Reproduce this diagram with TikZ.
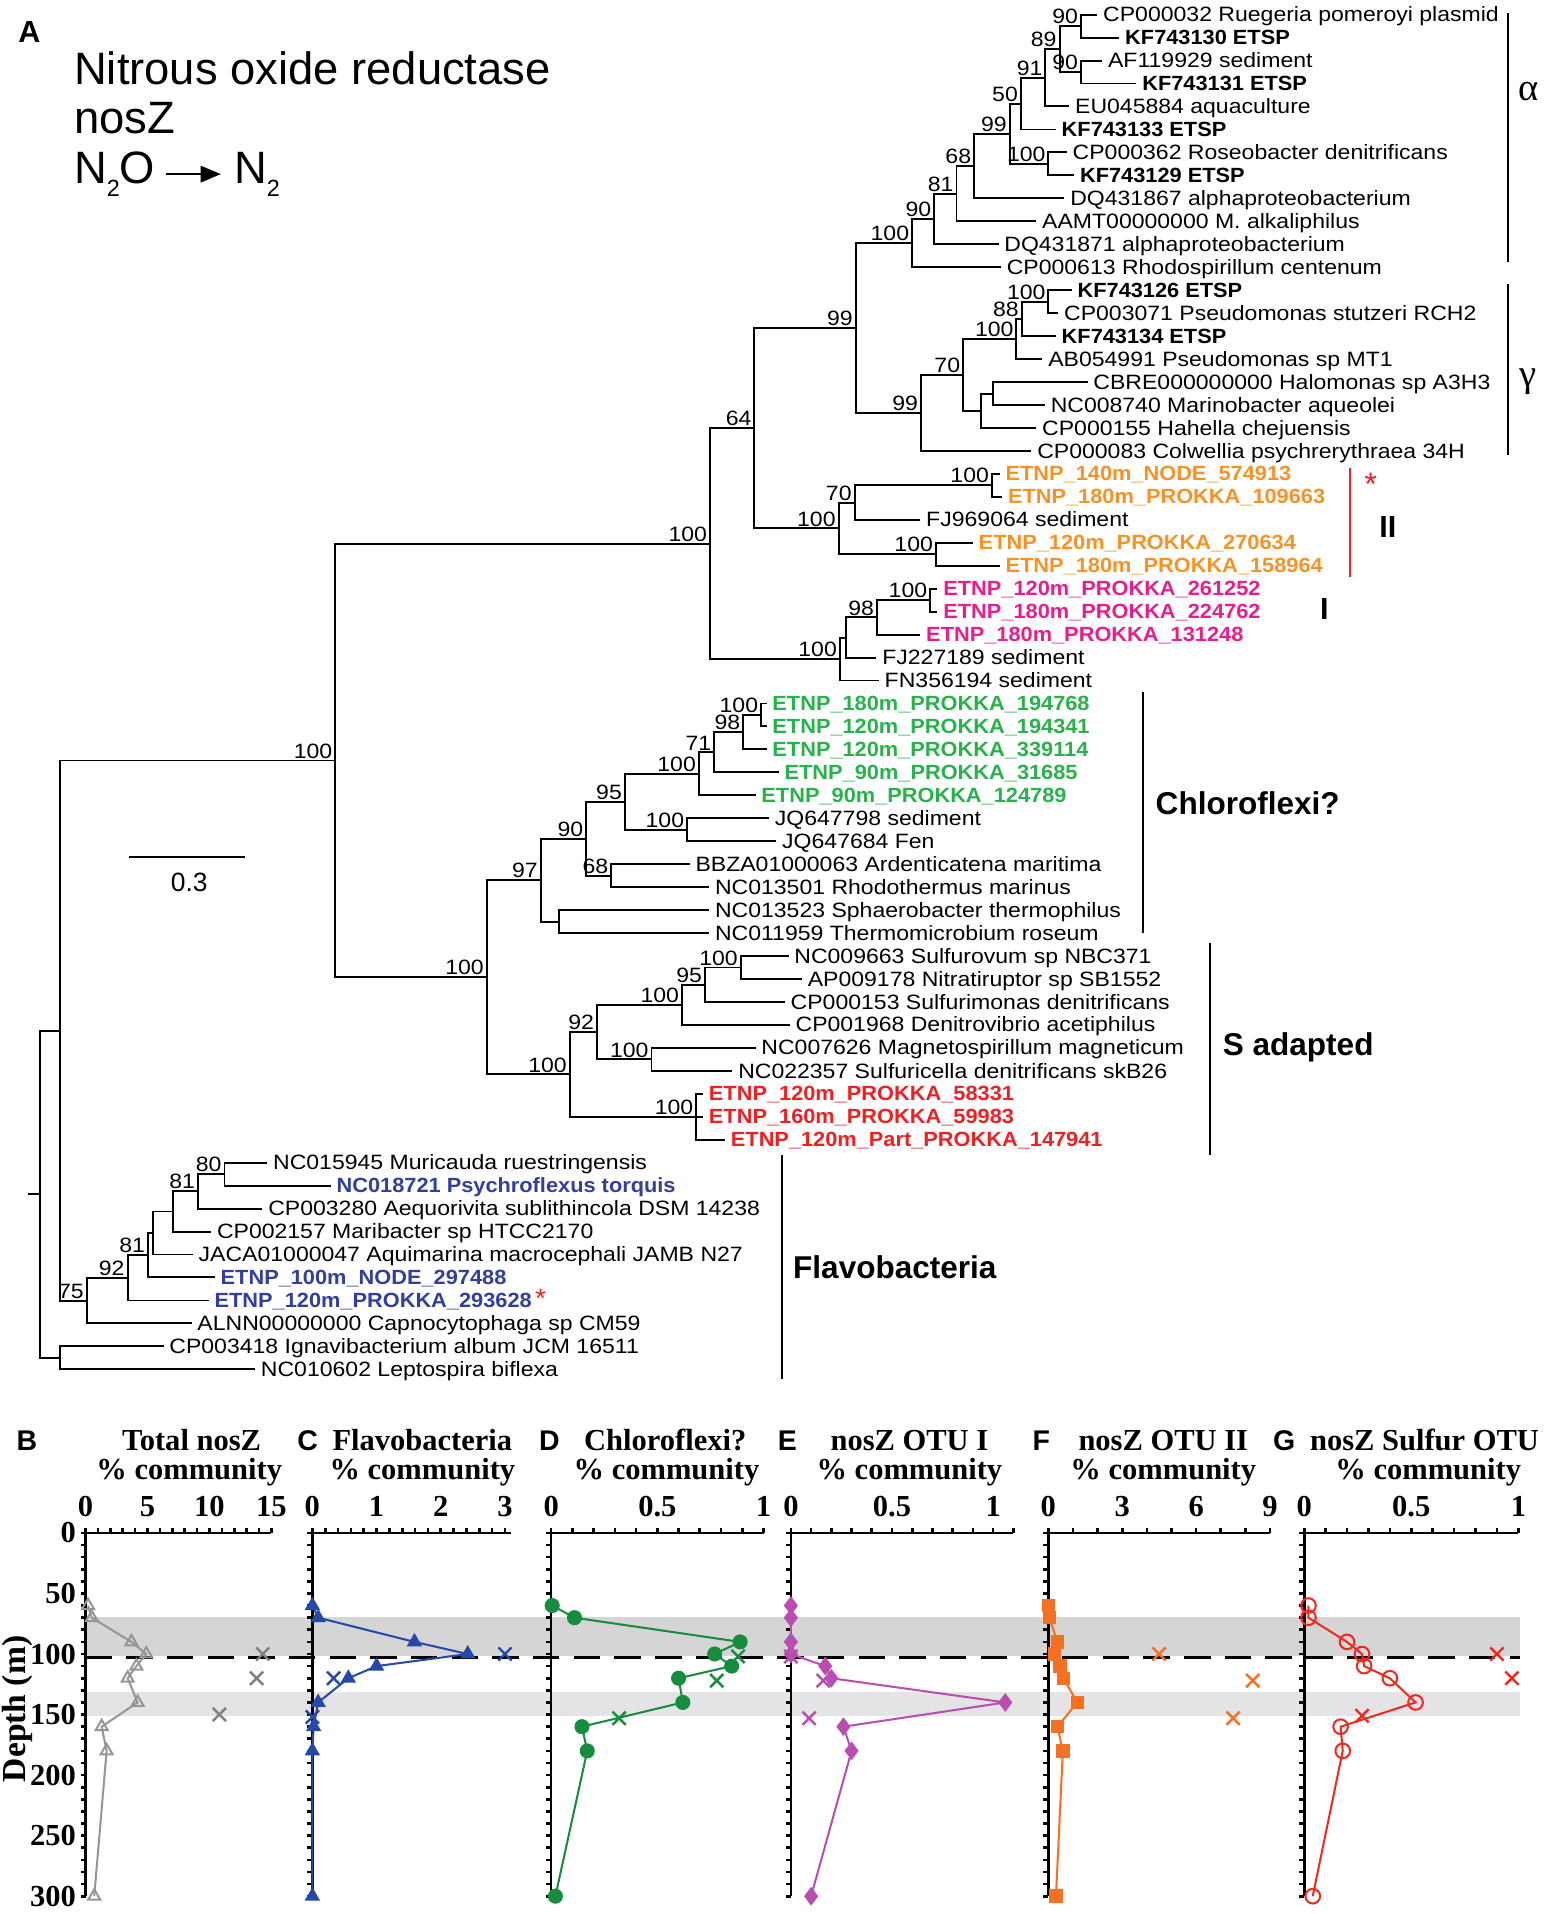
\documentclass[tikz,border=0pt]{standalone}
\usepackage{fontspec}
\setmainfont{Liberation Sans}
\newfontfamily\timesfont{Liberation Serif}
\newfontfamily\leaffont{Liberation Sans}[FakeStretch=1.11]
\newfontfamily\leafboldfont{Liberation Sans}[FakeStretch=1.06]
\usetikzlibrary{arrows.meta,plotmarks}

\definecolor{nosorange}{RGB}{246,146,38}
\definecolor{nospink}{RGB}{231,30,140}
\definecolor{nosgreen}{RGB}{40,178,75}
\definecolor{nosred}{RGB}{237,32,36}
\definecolor{nosblue}{RGB}{50,62,160}
\definecolor{bandA}{RGB}{213,213,213}
\definecolor{bandB}{RGB}{228,228,230}
\definecolor{plotgray}{RGB}{150,150,150}
\definecolor{plotblue}{RGB}{38,72,168}
\definecolor{plotgreen}{RGB}{22,140,62}
\definecolor{plotpink}{RGB}{186,78,176}
\definecolor{plotorange}{RGB}{245,112,32}
\definecolor{plotred}{RGB}{236,42,30}

\tikzset{
  leaf/.style={anchor=west,inner xsep=2.4pt,inner ysep=0pt,text height=8pt,text depth=1pt,font=\leaffont\fontsize{10.2}{12}\selectfont},
  boldleaf/.style={leaf,font=\leafboldfont\bfseries\fontsize{10.1}{12}\selectfont},
  boot/.style={anchor=south east,inner xsep=1pt,inner ysep=0.6pt,font=\leaffont\fontsize{10.2}{12}\selectfont},
  cladebar/.style={line width=1pt},
  cladename/.style={anchor=west,inner sep=0pt,font=\fontsize{15.5}{18}\selectfont\bfseries},
  greek/.style={inner sep=0pt,font=\timesfont\fontsize{19}{22}\selectfont},
  redstar/.style={inner sep=0pt,text height=7pt,text depth=0pt,text=nosred,font=\fontsize{16}{18}\selectfont},
  axis/.style={line width=1.3pt},
  ticklab/.style={inner sep=0pt,font=\timesfont\bfseries\fontsize{15}{18}\selectfont},
  ptitle/.style={inner sep=0pt,font=\timesfont\bfseries\fontsize{15}{18}\selectfont},
  pletter/.style={inner sep=0pt,font=\bfseries\fontsize{14}{16}\selectfont},
  dataline/.style={line width=1pt},
  xmarks/.style={only marks,mark=x,mark size=4.6pt,mark options={line width=1.2pt}}
}

\begin{document}
\begin{tikzpicture}[x=0.6pt,y=-0.6pt,line width=0.95pt]
\useasboundingbox (0,0) rectangle (1267,1568);

\node[inner sep=0pt,font=\bfseries\fontsize{15}{18}\selectfont] (lblA) at (24,26) {A};
\node[anchor=base west,inner sep=0pt,font=\fontsize{22.3}{24}\selectfont] (title1) at (60,69.6) {Nitrous oxide reductase};
\node[anchor=base west,inner sep=0pt,font=\fontsize{22.3}{24}\selectfont] (title2) at (60,109.2) {nosZ};
\node[anchor=base west,inner sep=0pt,font=\fontsize{22.3}{24}\selectfont] (title3) at (60,150.2) {N\raisebox{-6.5pt}{\fontsize{11.5}{12}\selectfont 2}O};
\node[anchor=base west,inner sep=0pt,font=\fontsize{22.3}{24}\selectfont] (title4) at (191,150.2) {N\raisebox{-6.5pt}{\fontsize{11.5}{12}\selectfont 2}};
\draw[line width=1.3pt,-{Triangle[length=10pt,width=8pt]},shorten <=5pt,shorten >=6pt] (title3.east) -- (title3.east -| title4.west);

\node[leaf] (l1) at (899,12.0) {CP000032 Ruegeria pomeroyi plasmid};
\node[boldleaf] (l2) at (917,30.8) {KF743130 ETSP};
\node[leaf] (l3) at (903,49.6) {AF119929 sediment};
\node[boldleaf] (l4) at (931,68.4) {KF743131 ETSP};
\node[leaf] (l5) at (876,87.2) {EU045884 aquaculture};
\node[boldleaf] (l6) at (865,106.1) {KF743133 ETSP};
\node[leaf] (l7) at (874,124.9) {CP000362 Roseobacter denitrificans};
\node[boldleaf] (l8) at (880,143.7) {KF743129 ETSP};
\node[leaf] (l9) at (872,162.5) {DQ431867 alphaproteobacterium};
\node[leaf] (l10) at (849,181.3) {AAMT00000000 M. alkaliphilus};
\node[leaf] (l11) at (818,200.1) {DQ431871 alphaproteobacterium};
\node[leaf] (l12) at (820,218.9) {CP000613 Rhodospirillum centenum};
\node[boldleaf] (l13) at (878,237.7) {KF743126 ETSP};
\node[leaf] (l14) at (867,256.5) {CP003071 Pseudomonas stutzeri RCH2};
\node[boldleaf] (l15) at (865,275.3) {KF743134 ETSP};
\node[leaf] (l16) at (854,294.2) {AB054991 Pseudomonas sp MT1};
\node[leaf] (l17) at (891,313.0) {CBRE000000000 Halomonas sp A3H3};
\node[leaf] (l18) at (856,331.8) {NC008740 Marinobacter aqueolei};
\node[leaf] (l19) at (849,350.6) {CP000155 Hahella chejuensis};
\node[leaf] (l20) at (845,369.4) {CP000083 Colwellia psychrerythraea 34H};
\node[boldleaf,text=nosorange] (l21) at (819,388.2) {ETNP\_140m\_NODE\_574913};
\node[boldleaf,text=nosorange] (l22) at (821,407.0) {ETNP\_180m\_PROKKA\_109663};
\node[leaf] (l23) at (754,425.8) {FJ969064 sediment};
\node[boldleaf,text=nosorange] (l24) at (797,444.6) {ETNP\_120m\_PROKKA\_270634};
\node[boldleaf,text=nosorange] (l25) at (819,463.4) {ETNP\_180m\_PROKKA\_158964};
\node[boldleaf,text=nospink] (l26) at (768,482.3) {ETNP\_120m\_PROKKA\_261252};
\node[boldleaf,text=nospink] (l27) at (768,501.1) {ETNP\_180m\_PROKKA\_224762};
\node[boldleaf,text=nospink] (l28) at (754,519.9) {ETNP\_180m\_PROKKA\_131248};
\node[leaf] (l29) at (718,538.7) {FJ227189 sediment};
\node[leaf] (l30) at (720,557.5) {FN356194 sediment};
\node[boldleaf,text=nosgreen] (l31) at (628,576.3) {ETNP\_180m\_PROKKA\_194768};
\node[boldleaf,text=nosgreen] (l32) at (628,595.1) {ETNP\_120m\_PROKKA\_194341};
\node[boldleaf,text=nosgreen] (l33) at (628,613.9) {ETNP\_120m\_PROKKA\_339114};
\node[boldleaf,text=nosgreen] (l34) at (638,632.7) {ETNP\_90m\_PROKKA\_31685};
\node[boldleaf,text=nosgreen] (l35) at (619,651.5) {ETNP\_90m\_PROKKA\_124789};
\node[leaf] (l36) at (630,670.3) {JQ647798 sediment};
\node[leaf] (l37) at (636,689.2) {JQ647684 Fen};
\node[leaf] (l38) at (565,708.0) {BBZA01000063 Ardenticatena maritima};
\node[leaf] (l39) at (581,726.8) {NC013501 Rhodothermus marinus};
\node[leaf] (l40) at (581,745.6) {NC013523 Sphaerobacter thermophilus};
\node[leaf] (l41) at (581,764.4) {NC011959 Thermomicrobium roseum};
\node[leaf] (l42) at (646,783.2) {NC009663 Sulfurovum sp NBC371};
\node[leaf] (l43) at (657,802.0) {AP009178 Nitratiruptor sp SB1552};
\node[leaf] (l44) at (643,820.8) {CP000153 Sulfurimonas denitrificans};
\node[leaf] (l45) at (647,839.6) {CP001968 Denitrovibrio acetiphilus};
\node[leaf] (l46) at (619,858.4) {NC007626 Magnetospirillum magneticum};
\node[leaf] (l47) at (600,877.3) {NC022357 Sulfuricella denitrificans skB26};
\node[boldleaf,text=nosred] (l48) at (576,896.1) {ETNP\_120m\_PROKKA\_58331};
\node[boldleaf,text=nosred] (l49) at (576,914.9) {ETNP\_160m\_PROKKA\_59983};
\node[boldleaf,text=nosred] (l50) at (594,933.7) {ETNP\_120m\_Part\_PROKKA\_147941};
\node[leaf] (l51) at (219,952.5) {NC015945 Muricauda ruestringensis};
\node[boldleaf,text=nosblue] (l52) at (271,971.3) {NC018721 Psychroflexus torquis};
\node[leaf] (l53) at (215,990.1) {CP003280 Aequorivita sublithincola DSM 14238};
\node[leaf] (l54) at (173,1008.9) {CP002157 Maribacter sp HTCC2170};
\node[leaf] (l55) at (158,1027.7) {JACA01000047 Aquimarina macrocephali JAMB N27};
\node[boldleaf,text=nosblue] (l56) at (176,1046.5) {ETNP\_100m\_NODE\_297488};
\node[boldleaf,text=nosblue] (l57) at (171,1065.4) {ETNP\_120m\_PROKKA\_293628\,{\color{nosred}\mdseries\fontsize{13}{13}\selectfont *}};
\node[leaf] (l58) at (157,1084.2) {ALNN00000000 Capnocytophaga sp CM59};
\node[leaf] (l59) at (134,1103.0) {CP003418 Ignavibacterium album JCM 16511};
\node[leaf] (l60) at (209,1121.8) {NC010602 Leptospira biflexa};

\coordinate (a90a) at (885.5,21.4);
\coordinate (a90b) at (885.5,59.0);
\coordinate (a89) at (868,40.2);
\coordinate (a91) at (856.4,63.7);
\coordinate (a50) at (836.3,84.9);
\coordinate (a100r) at (858.9,134.3);
\coordinate (a99) at (827.2,109.6);
\coordinate (a68) at (798,136.1);
\coordinate (a81) at (783.6,158.7);
\coordinate (a90c) at (765.4,179.4);
\coordinate (a100) at (747.2,199.2);
\coordinate (g100a) at (858.9,247.1);
\coordinate (g88) at (837,261.2);
\coordinate (g100b) at (832.7,277.7);
\coordinate (gHM) at (813.4,322.4);
\coordinate (gHH) at (803.6,336.5);
\coordinate (g70) at (789,307.1);
\coordinate (g99) at (754.4,338.3);
\coordinate (p99) at (701,268.8);
\coordinate (t100a) at (812.6,397.6);
\coordinate (t70) at (700.1,411.7);
\coordinate (t100b) at (766.7,454.0);
\coordinate (t100) at (687,432.9);
\coordinate (n64) at (618,350.8);
\coordinate (o100a) at (762,491.7);
\coordinate (o98) at (718.4,505.8);
\coordinate (ox) at (693.1,522.3);
\coordinate (o100) at (688,539.9);
\coordinate (top100) at (581.6,445.4);
\coordinate (c100a) at (623.5,585.7);
\coordinate (c98) at (608.9,599.8);
\coordinate (c71) at (585.1,616.3);
\coordinate (c100b) at (572.5,633.9);
\coordinate (c100c) at (562.9,679.8);
\coordinate (c95) at (511.9,656.8);
\coordinate (c68) at (500.7,717.4);
\coordinate (c90) at (480.2,687.1);
\coordinate (cx) at (457.6,755.0);
\coordinate (c97) at (443,721.1);
\coordinate (s100a) at (606.8,792.6);
\coordinate (s95) at (577.5,806.7);
\coordinate (s100b) at (558.7,823.2);
\coordinate (s100c) at (533.7,867.9);
\coordinate (s92) at (489,845.5);
\coordinate (s100d) at (570.4,914.9);
\coordinate (s100) at (466.8,880.2);
\coordinate (cs100) at (398.7,800.6);
\coordinate (main100) at (274.6,623.0);
\coordinate (f80) at (183.9,961.9);
\coordinate (f81a) at (162.1,976.0);
\coordinate (fx1) at (142.1,992.5);
\coordinate (fx2) at (125.4,1010.1);
\coordinate (f81b) at (121.2,1028.3);
\coordinate (f92) at (104.5,1046.8);
\coordinate (f75) at (71,1065.5);
\coordinate (nodeL) at (49,844.3);
\coordinate (fIL) at (49,1112.4);
\coordinate (root) at (32.6,978.3);
\coordinate (rootstub) at (23,978.3);

\draw (a90a) |- (l1.west) (a90a) |- (l2.west);
\draw (a90b) |- (l3.west) (a90b) |- (l4.west);
\draw (a89) |- (a90a) (a89) |- (a90b);
\draw (a91) |- (a89) (a91) |- (l5.west);
\draw (a50) |- (a91) (a50) |- (l6.west);
\draw (a100r) |- (l7.west) (a100r) |- (l8.west);
\draw (a99) |- (a50) (a99) |- (a100r);
\draw (a68) |- (a99) (a68) |- (l9.west);
\draw (a81) |- (a68) (a81) |- (l10.west);
\draw (a90c) |- (a81) (a90c) |- (l11.west);
\draw (a100) |- (a90c) (a100) |- (l12.west);
\draw (g100a) |- (l13.west) (g100a) |- (l14.west);
\draw (g88) |- (g100a) (g88) |- (l15.west);
\draw (g100b) |- (g88) (g100b) |- (l16.west);
\draw (gHM) |- (l17.west) (gHM) |- (l18.west);
\draw (gHH) |- (gHM) (gHH) |- (l19.west);
\draw (g70) |- (g100b) (g70) |- (gHH);
\draw (g99) |- (g70) (g99) |- (l20.west);
\draw (p99) |- (a100) (p99) |- (g99);
\draw (t100a) |- (l21.west) (t100a) |- (l22.west);
\draw (t70) |- (t100a) (t70) |- (l23.west);
\draw (t100b) |- (l24.west) (t100b) |- (l25.west);
\draw (t100) |- (t70) (t100) |- (t100b);
\draw (n64) |- (p99) (n64) |- (t100);
\draw (o100a) |- (l26.west) (o100a) |- (l27.west);
\draw (o98) |- (o100a) (o98) |- (l28.west);
\draw (ox) |- (o98) (ox) |- (l29.west);
\draw (o100) |- (ox) (o100) |- (l30.west);
\draw (top100) |- (n64) (top100) |- (o100);
\draw (c100a) |- (l31.west) (c100a) |- (l32.west);
\draw (c98) |- (c100a) (c98) |- (l33.west);
\draw (c71) |- (c98) (c71) |- (l34.west);
\draw (c100b) |- (c71) (c100b) |- (l35.west);
\draw (c100c) |- (l36.west) (c100c) |- (l37.west);
\draw (c95) |- (c100b) (c95) |- (c100c);
\draw (c68) |- (l38.west) (c68) |- (l39.west);
\draw (c90) |- (c95) (c90) |- (c68);
\draw (cx) |- (l40.west) (cx) |- (l41.west);
\draw (c97) |- (c90) (c97) |- (cx);
\draw (s100a) |- (l42.west) (s100a) |- (l43.west);
\draw (s95) |- (s100a) (s95) |- (l44.west);
\draw (s100b) |- (s95) (s100b) |- (l45.west);
\draw (s100c) |- (l46.west) (s100c) |- (l47.west);
\draw (s92) |- (s100b) (s92) |- (s100c);
\draw (s100d) |- (l48.west) (s100d) |- (l49.west) (s100d) |- (l50.west);
\draw (s100) |- (s92) (s100) |- (s100d);
\draw (cs100) |- (c97) (cs100) |- (s100);
\draw (main100) |- (top100) (main100) |- (cs100);
\draw (f80) |- (l51.west) (f80) |- (l52.west);
\draw (f81a) |- (f80) (f81a) |- (l53.west);
\draw (fx1) |- (f81a) (fx1) |- (l54.west);
\draw (fx2) |- (fx1) (fx2) |- (l55.west);
\draw (f81b) |- (fx2) (f81b) |- (l56.west);
\draw (f92) |- (f81b) (f92) |- (l57.west);
\draw (f75) |- (f92) (f75) |- (l58.west);
\draw (nodeL) |- (main100) (nodeL) |- (f75);
\draw (fIL) |- (l59.west) (fIL) |- (l60.west);
\draw (root) |- (nodeL) (root) |- (fIL);
\draw (rootstub) -- (root);

\node[boot] (ba90a) at (a90a) {90};
\node[boot] (ba90b) at (a90b) {90};
\node[boot] (ba89) at (a89) {89};
\node[boot] (ba91) at (a91) {91};
\node[boot] (ba50) at (a50) {50};
\node[boot] (ba100r) at (a100r) {100};
\node[boot] (ba99) at (a99) {99};
\node[boot] (ba68) at (a68) {68};
\node[boot] (ba81) at (a81) {81};
\node[boot] (ba90c) at (a90c) {90};
\node[boot] (ba100) at (a100) {100};
\node[boot] (bg100a) at (g100a) {100};
\node[boot] (bg88) at (g88) {88};
\node[boot] (bg100b) at (g100b) {100};
\node[boot] (bg70) at (g70) {70};
\node[boot] (bg99) at (g99) {99};
\node[boot] (bp99) at (p99) {99};
\node[boot] (bn64) at (n64) {64};
\node[boot] (bt100a) at (t100a) {100};
\node[boot] (bt70) at (t70) {70};
\node[boot] (bt100b) at (t100b) {100};
\node[boot] (bt100) at (t100) {100};
\node[boot] (bo100a) at (o100a) {100};
\node[boot] (bo98) at (o98) {98};
\node[boot] (bo100) at (o100) {100};
\node[boot] (btop100) at (top100) {100};
\node[boot] (bc100a) at (c100a) {100};
\node[boot] (bc98) at (c98) {98};
\node[boot] (bc71) at (c71) {71};
\node[boot] (bc100b) at (c100b) {100};
\node[boot] (bc100c) at (c100c) {100};
\node[boot] (bc95) at (c95) {95};
\node[boot] (bc68) at (c68) {68};
\node[boot] (bc90) at (c90) {90};
\node[boot] (bc97) at (c97) {97};
\node[boot] (bs100a) at (s100a) {100};
\node[boot] (bs95) at (s95) {95};
\node[boot] (bs100b) at (s100b) {100};
\node[boot] (bs100c) at (s100c) {100};
\node[boot] (bs92) at (s92) {92};
\node[boot] (bs100d) at (s100d) {100};
\node[boot] (bs100) at (s100) {100};
\node[boot] (bcs100) at (cs100) {100};
\node[boot] (bmain100) at (main100) {100};
\node[boot] (bf80) at (f80) {80};
\node[boot] (bf81a) at (f81a) {81};
\node[boot] (bf81b) at (f81b) {81};
\node[boot] (bf92) at (f92) {92};
\node[boot] (bf75) at (f75) {75};

\coordinate (alphaT) at (1235,11);
\coordinate (alphaB) at (1235,215);
\draw[cladebar] (alphaT) -- (alphaB);
\node[greek] (alpha) at (1252,75) {α};
\coordinate (gammaT) at (1235,233);
\coordinate (gammaB) at (1235,373);
\draw[cladebar] (gammaT) -- (gammaB);
\node[greek] (gamma) at (1252,313) {γ};
\coordinate (twoT) at (1106,383.6);
\coordinate (twoB) at (1106,472.3);
\draw[cladebar,nosred] (twoT) -- (twoB);
\node[redstar,anchor=base] (ast1) at (1123,406) {*};
\node[inner sep=0pt,font=\fontsize{15}{18}\selectfont\bfseries] (otu2) at (1137,431.4) {II};
\node[inner sep=0pt,font=\fontsize{15}{18}\selectfont\bfseries] (otu1) at (1085,499) {I};
\coordinate (chlT) at (936,566.5);
\coordinate (chlB) at (936,764.4);
\draw[cladebar] (chlT) -- (chlB);
\node[cladename] (chl) at (946,658) {Chloroflexi?};
\coordinate (sadT) at (991,772.6);
\coordinate (sadB) at (991,946);
\draw[cladebar] (sadT) -- (sadB);
\node[cladename] (sad) at (1001,858) {S adapted};
\coordinate (flaT) at (641,946);
\coordinate (flaB) at (641,1130);
\draw[cladebar] (flaT) -- (flaB);
\node[cladename] (fla) at (649,1038) {Flavobacteria};

\coordinate (sbL) at (106,702);
\coordinate (sbR) at (200.7,702);
\draw (sbL) -- (sbR);
\node[inner sep=0pt,font=\fontsize{13}{15}\selectfont] (sbT) at (155,723) {0.3};

\fill[bandA] (70,1324.3) rectangle (1245,1357);
\fill[bandB] (70,1385.8) rectangle (1245,1405.6);
\draw[line width=1.3pt,dash pattern=on 13pt off 7pt] (70,1358) -- (1245,1358);

\node[ptitle,rotate=90,font=\timesfont\bfseries\fontsize{16.5}{18}\selectfont] (depth) at (14,1400) {Depth (m)};
\foreach \d in {0,50,...,300} \node[ticklab,anchor=east] (dl\d) at (63,{1255.8+0.992*\d}) {\d};

\node[pletter] (pB) at (22,1180) {B};
\node[ptitle] (tB1) at (157,1180) {Total nosZ};
\node[ptitle] (tB2) at (155,1206) {\% community};
\node[pletter] (pC) at (252,1180) {C};
\node[ptitle] (tC1) at (346,1180) {Flavobacteria};
\node[ptitle] (tC2) at (346,1206) {\% community};
\node[pletter] (pD) at (450,1180) {D};
\node[ptitle] (tD1) at (545,1180) {Chloroflexi?};
\node[ptitle] (tD2) at (546,1206) {\% community};
\node[pletter] (pE) at (645,1180) {E};
\node[ptitle] (tE1) at (745,1180) {nosZ OTU I};
\node[ptitle] (tE2) at (745,1206) {\% community};
\node[pletter] (pF) at (853,1180) {F};
\node[ptitle] (tF1) at (953,1180) {nosZ OTU II};
\node[ptitle] (tF2) at (953,1206) {\% community};
\node[pletter] (pG) at (1052,1180) {G};
\node[ptitle] (tG1) at (1167,1180) {nosZ Sulfur OTU};
\node[ptitle] (tG2) at (1170,1206) {\% community};

\begin{scope}[shift={(70.1,1255.8)},x=6.09pt,y=-0.5952pt]
\draw[axis] (0,300) -- (0,0) -- (15,0);
\foreach \k in {0,...,15} \draw[axis] (\k,0) -- ++(0pt,2.4pt);
\foreach \d in {0,10,...,300} \draw[axis] (0,\d) -- ++(-2.4pt,0pt);
\foreach \v [count=\i] in {0,5,10,15} \node[ticklab] (bx\i) at (\v,-22) {\v};
\draw[dataline,plotgray] plot[mark=triangle,mark size=3.4pt] coordinates {(0.2,60) (0.5,70) (3.7,90) (4.9,100) (4.1,110) (3.4,120) (4.2,140) (1.3,160) (1.7,180) (0.7,300)};
\draw[plotgray!85!black] plot[xmarks] coordinates {(14.3,100) (13.8,120) (10.8,150)};
\end{scope}

\begin{scope}[shift={(255.9,1255.8)},x=31.56pt,y=-0.5952pt]
\draw[axis] (0,300) -- (0,0) -- (3.1,0);
\foreach \k in {0,...,15} \draw[axis] ({\k/5},0) -- ++(0pt,2.4pt);
\foreach \d in {0,10,...,300} \draw[axis] (0,\d) -- ++(-2.4pt,0pt);
\foreach \v [count=\i] in {0,1,2,3} \node[ticklab] (cx\i) at (\v,-22) {\v};
\draw[dataline,plotblue] plot[mark=triangle*,mark size=3.4pt] coordinates {(0,60) (0.09,70) (1.59,90) (2.42,100) (1.0,110) (0.56,120) (0.09,140) (0.02,160) (0,180) (0,300)};
\draw[plotblue] plot[xmarks] coordinates {(3.0,100) (0.33,120) (0,152)};
\end{scope}

\begin{scope}[shift={(451.5,1255.8)},x=104.4pt,y=-0.5952pt]
\draw[axis] (0,300) -- (0,0) -- (1,0);
\foreach \k in {0,...,10} \draw[axis] ({\k/10},0) -- ++(0pt,2.4pt);
\foreach \d in {0,10,...,300} \draw[axis] (0,\d) -- ++(-2.4pt,0pt);
\foreach \v [count=\i] in {0,0.5,1} \node[ticklab] (dx\i) at (\v,-22) {\v};
\draw[dataline,plotgreen] plot[mark=*,mark size=3.2pt] coordinates {(0.005,60) (0.11,70) (0.89,90) (0.77,100) (0.85,110) (0.60,120) (0.62,140) (0.145,160) (0.17,180) (0.02,300)};
\draw[plotgreen] plot[xmarks] coordinates {(0.88,102) (0.78,122) (0.32,153)};
\end{scope}

\begin{scope}[shift={(647.9,1255.8)},x=99.42pt,y=-0.5952pt]
\draw[axis] (0,300) -- (0,0) -- (1.1,0);
\foreach \k in {0,...,11} \draw[axis] ({\k/10},0) -- ++(0pt,2.4pt);
\foreach \d in {0,10,...,300} \draw[axis] (0,\d) -- ++(-2.4pt,0pt);
\foreach \v [count=\i] in {0,0.5,1} \node[ticklab] (ex\i) at (\v,-22) {\v};
\draw[dataline,plotpink] plot[mark=diamond*,mark size=3.8pt] coordinates {(0,60) (0,70) (0,90) (0,100) (0.17,110) (0.2,120) (1.06,140) (0.26,160) (0.30,180) (0.1,300)};
\draw[plotpink] plot[xmarks] coordinates {(0,102) (0.16,122) (0.09,153)};
\end{scope}

\begin{scope}[shift={(858.8,1255.8)},x=12.11pt,y=-0.5952pt]
\draw[axis] (0,300) -- (0,0) -- (9,0);
\foreach \k in {0,...,9} \draw[axis] (\k,0) -- ++(0pt,2.4pt);
\foreach \d in {0,10,...,300} \draw[axis] (0,\d) -- ++(-2.4pt,0pt);
\foreach \v [count=\i] in {0,3,6,9} \node[ticklab] (fx\i) at (\v,-22) {\v};
\draw[dataline,plotorange] plot[mark=square*,mark size=2.8pt] coordinates {(0,60) (0.04,70) (0.37,90) (0.26,100) (0.47,110) (0.61,120) (1.18,140) (0.37,160) (0.59,180) (0.31,300)};
\draw[plotorange] plot[xmarks] coordinates {(4.5,100) (8.3,122) (7.5,153)};
\end{scope}

\begin{scope}[shift={(1068.4,1255.8)},x=105.3pt,y=-0.5952pt]
\draw[axis] (0,300) -- (0,0) -- (1,0);
\foreach \k in {0,...,10} \draw[axis] ({\k/10},0) -- ++(0pt,2.4pt);
\foreach \d in {0,10,...,300} \draw[axis] (0,\d) -- ++(-2.4pt,0pt);
\foreach \v [count=\i] in {0,0.5,1} \node[ticklab] (gx\i) at (\v,-22) {\v};
\draw[dataline,plotred] plot[mark=o,mark size=3.6pt] coordinates {(0.02,60) (0.02,70) (0.2,90) (0.27,100) (0.28,110) (0.4,120) (0.52,140) (0.17,160) (0.18,180) (0.04,300)};
\draw[plotred] plot[xmarks] coordinates {(0.9,100) (0.97,120) (0.27,151)};
\end{scope}

\end{tikzpicture}
\end{document}
